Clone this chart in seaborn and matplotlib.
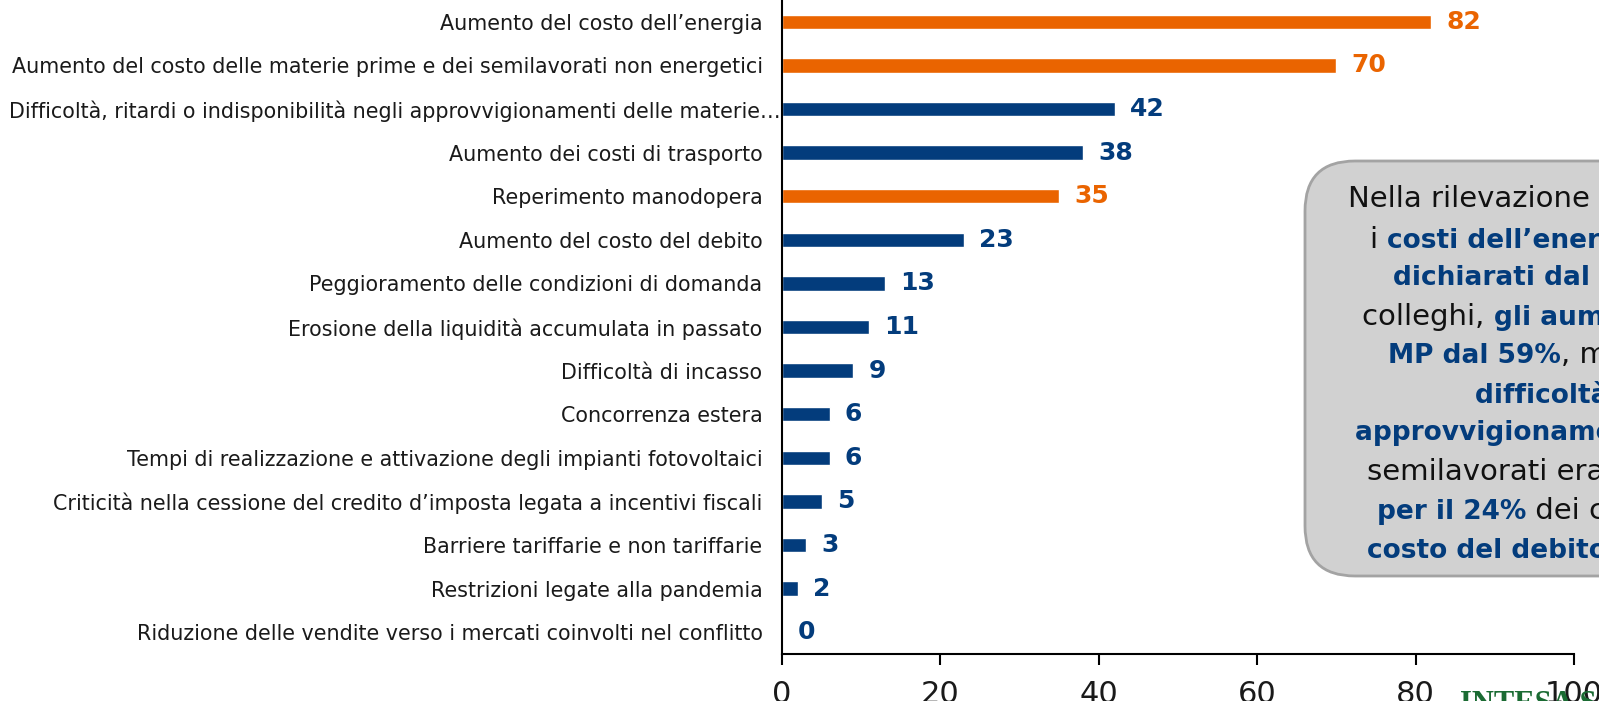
import matplotlib
matplotlib.use('Agg')
import matplotlib.pyplot as plt
import matplotlib.transforms as mtransforms
import seaborn as sns
from matplotlib.patches import FancyBboxPatch

# Data
categories = [
    "Aumento del costo dell’energia",
    "Aumento del costo delle materie prime e dei semilavorati non energetici",
    "Difficoltà, ritardi o indisponibilità negli approvvigionamenti delle materie…",
    "Aumento dei costi di trasporto",
    "Reperimento manodopera",
    "Aumento del costo del debito",
    "Peggioramento delle condizioni di domanda",
    "Erosione della liquidità accumulata in passato",
    "Difficoltà di incasso",
    "Concorrenza estera",
    "Tempi di realizzazione e attivazione degli impianti fotovoltaici",
    "Criticità nella cessione del credito d’imposta legata a incentivi fiscali",
    "Barriere tariffarie e non tariffarie",
    "Restrizioni legate alla pandemia",
    "Riduzione delle vendite verso i mercati coinvolti nel conflitto",
]
values = [82, 70, 42, 38, 35, 23, 13, 11, 9, 6, 6, 5, 3, 2, 0]
highlighted = [True, True, False, False, True, False, False, False,
               False, False, False, False, False, False, False]
x_ticks = [0, 20, 40, 60, 80, 100]

# Callout text: list of lines, each a list of (text, bold) pieces
box_lines = [
    [("Nella rilevazione di ottobre", False)],
    [("i ", False), ("costi dell’energia erano", True)],
    [("dichiarati dal 70% dei", True)],
    [("colleghi, ", False), ("gli aumenti delle", True)],
    [("MP dal 59%", True), (", mentre le", False)],
    [("difficoltà negli", True)],
    [("approvvigionamenti di MP e", True)],
    [("semilavorati erano citate", False)],
    [("per il 24%", True), (" dei casi e il", False)],
    [("costo del debito dal 18%", True)],
]
box_line_x = [1348, 1370, 1393, 1362, 1388, 1475, 1355, 1367, 1377, 1367]
box_line_y = [199, 240, 278, 317, 356, 395, 433, 472, 512, 551]

ORANGE = '#EA6400'
BLUE = '#033C7C'
bar_colors = [ORANGE if h else BLUE for h in highlighted]

sns.set_style('white')
plt.rcParams['font.family'] = ['DejaVu Sans']

W, H = 1599, 701
fig = plt.figure(figsize=(W / 100, H / 100), dpi=100)
ax = fig.add_axes([782 / W, 1 - 654 / H, (1574 - 782) / W, 654 / H])

sns.barplot(x=values, y=categories, hue=categories, palette=bar_colors,
            legend=False, orient='h', width=0.33, saturation=1, ax=ax)

ax.set_xlim(0, 100)
ax.set_xticks(x_ticks)
ax.set_ylim(14.5, -0.5)
ax.set_xlabel('')
ax.set_ylabel('')
for s in ['top', 'right']:
    ax.spines[s].set_visible(False)
for s in ['left', 'bottom']:
    ax.spines[s].set_color('black')
    ax.spines[s].set_linewidth(1.5)

ax.tick_params(axis='y', length=0, pad=14, labelsize=14.9, labelcolor='#1a1a1a')
ax.tick_params(axis='x', direction='out', length=8, width=1.5, color='black',
               pad=11, labelsize=22, labelcolor='#1a1a1a', bottom=True)
for lab in ax.get_xticklabels():
    lab.set_family(['Liberation Sans Narrow', 'DejaVu Sans'])

# the long truncated label runs up to the axis line in the original
long_lab = ax.get_yticklabels()[2]
long_lab.set_transform(long_lab.get_transform() +
                       mtransforms.ScaledTranslation(0.18, 0, fig.dpi_scale_trans))

# value labels
for i, cont in enumerate(ax.containers):
    ax.bar_label(cont, labels=[str(values[i])], padding=11, color=bar_colors[i],
                 fontsize=18, fontweight='bold')

# callout box (clipped by the figure edge)
box = FancyBboxPatch((1305 / 100, (H - 576) / 100), 4.0, (576 - 161) / 100,
                     boxstyle='round,pad=0,rounding_size=0.5',
                     transform=fig.dpi_scale_trans, facecolor='#D1D1D1',
                     edgecolor='#A3A3A3', linewidth=2, clip_on=False, zorder=5)
ax.add_patch(box)

for line, lx, ly in zip(box_lines, box_line_x, box_line_y):
    prev = None
    for txt, bold in line:
        kw = dict(fontsize=19 if bold else 21, color=BLUE if bold else '#111111',
                  fontweight='bold' if bold else 'normal', zorder=6)
        if prev is None:
            prev = ax.text(lx / 100, (H - ly) / 100, txt, transform=fig.dpi_scale_trans,
                           ha='left', va='center', clip_on=False, **kw)
        else:
            prev = ax.annotate(txt, xy=(1, 0), xycoords=prev, ha='left', va='bottom',
                               annotation_clip=False, **kw)

# partial logo at bottom right
fig.text(1460 / W, 1 - 690 / H, "INTESA SANPAOLO", color='#1B6B33', fontsize=22,
         fontweight='bold', ha='left', va='top', family='Liberation Serif')

fig.savefig('out.png', dpi=100)
